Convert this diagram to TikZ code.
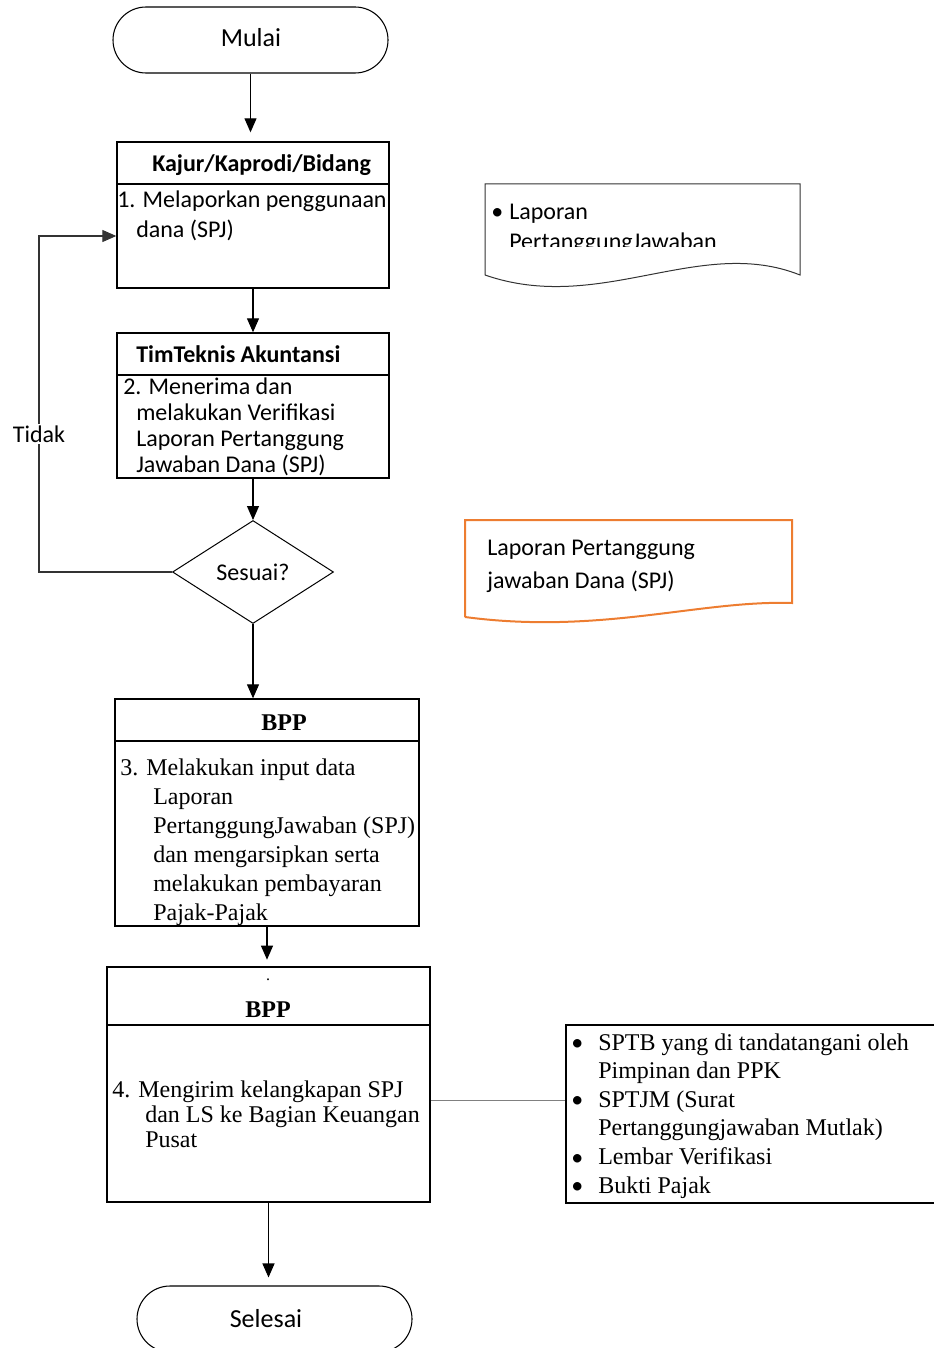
\documentclass[tikz,border=0pt]{standalone}
\usepackage{fontspec}
\setmainfont{Liberation Serif}
\newfontfamily\carlito{Carlito}
\usetikzlibrary{arrows.meta,fit,shapes.geometric}
\definecolor{oranye}{RGB}{237,125,49}

\tikzset{
	kotak/.style={draw,line width=1pt,inner sep=0pt,fit={#1}},
	terminal/.style={draw,line width=0.8pt,inner sep=0pt,rounded corners=24.75pt,fit={#1}},
	panah/.style={-{Triangle[length=10.5pt,width=9pt]},line width=0.8pt},
	sans/.style={inner sep=0pt,anchor=base west,align=left,font=\carlito\fontsize{18}{#1}\selectfont},
	serif/.style={inner sep=0pt,anchor=base west,align=left,font=\fontsize{18}{#1}\selectfont},
}

\begin{document}
\begin{tikzpicture}[x=0.75pt,y=-0.75pt]
\clip (0,0) rectangle (934,1348);

% terminal dan kotak proses (teks: baseline baris terakhir)
\node[terminal={(113,7)(388,73)}] (mulai) {};
\node[inner sep=0pt,anchor=base,font=\carlito\fontsize{19.5}{21}\selectfont] (tmulai) at (251,47) {Mulai};
\node[kotak={(117,142)(389,288)}] (kajur) {};
\draw[line width=1pt] (117,184) -- (389,184);
\node[sans=22.5,font=\carlito\bfseries\fontsize{18}{22}\selectfont] (hkajur) at (152,172) {Kajur/Kaprodi/Bidang};
\node[sans=22.5] (tkajur) at (117,238) {1. Melaporkan penggunaan\\\hspace*{14.25pt}dana (SPJ)};

\node[kotak={(117,333)(389,478)}] (tim) {};
\draw[line width=1pt] (117,375) -- (389,375);
\node[sans=19.5,font=\carlito\bfseries\fontsize{18}{22}\selectfont] (htim) at (136,362) {TimTeknis Akuntansi};
\node[sans=19.5] (ttim) at (123,472) {2. Menerima dan\\\hspace*{9.75pt}melakukan Verifikasi\\\hspace*{9.75pt}Laporan Pertanggung\\\hspace*{9.75pt}Jawaban Dana (SPJ)};

\node[diamond,draw,line width=0.75pt,inner sep=0pt,minimum width=120.75pt,minimum height=77.25pt,font=\carlito\fontsize{18}{20}\selectfont] (sesuai) at (253,572) {Sesuai?};

\node[kotak={(115,699)(419,926)}] (bpp1) {};
\draw[line width=1pt] (115,741) -- (419,741);
\node[inner sep=0pt,anchor=base,font=\bfseries\fontsize{18}{20}\selectfont] (hbpp1) at (284,730) {BPP};
\node[serif=21.75] (tbpp1) at (120,920) {3. Melakukan input data\\\hspace*{24.75pt}Laporan\\\hspace*{24.75pt}PertanggungJawaban (SPJ)\\\hspace*{24.75pt}dan mengarsipkan serta\\\hspace*{24.75pt}melakukan pembayaran\\\hspace*{24.75pt}Pajak-Pajak};

\node[kotak={(107,967)(430,1202)}] (bpp2) {};
\draw[line width=1pt] (107,1025) -- (430,1025);
\node[inner sep=0pt,anchor=base,font=\fontsize{12}{14}\selectfont] (titik) at (268,980) {.};
\node[inner sep=0pt,anchor=base,font=\bfseries\fontsize{18}{20}\selectfont] (hbpp2) at (268,1017) {BPP};
\node[serif=18.75] (tbpp2) at (112,1147) {4. Mengirim kelangkapan SPJ\\\hspace*{24.75pt}dan LS ke Bagian Keuangan\\\hspace*{24.75pt}Pusat};

\node[terminal={(137,1286)(412,1352)}] (selesai) {};
\node[inner sep=0pt,anchor=base,font=\carlito\fontsize{19.5}{21}\selectfont] (tselesai) at (266,1327) {Selesai};

% dokumen
\draw[line width=0.75pt,black!80] (485,275) -- (485,184) -- (800,184) -- (800,275)
	.. controls (700,235) and (600,315) .. (485,275);
\node[sans=21.75] (bulet1) at (491,220) {\textbullet};
\begin{scope}
	\clip (486,185) rectangle (799,247);
	\node[sans=21.75] (lpj) at (509,249) {Laporan\\PertanggungJawaban};
\end{scope}

\draw[line width=1.5pt,oranye] (465,617) -- (465,520) -- (792,520) -- (792,603)
	.. controls (700,600) and (600,635) .. (465,617);
\node[sans=24.75] (lpj2) at (487,588) {Laporan Pertanggung\\jawaban Dana (SPJ)};

% daftar kelengkapan
\node[kotak={(566,1025)(960,1203)}] (daftar) {};
\foreach \y in {1050,1107,1165,1193}
	\node[inner sep=0pt,anchor=base west,font=\carlito\fontsize{18}{20}\selectfont] at (571,\y) {\textbullet};
\node[serif=21.45] (isi) at (598,1193) {SPTB yang di tandatangani oleh\\Pimpinan dan PPK\\SPTJM (Surat\\Pertanggungjawaban Mutlak)\\Lembar Verifikasi\\Bukti Pajak};

% alur
\coordinate (balik) at (39,236);
\coordinate (sambung) at (500,1100);
\draw[panah,shorten >=6.75pt] (mulai.south) -- (mulai.south |- kajur.north);
\draw[panah] (kajur.south) -- (tim.north);
\draw[panah] (tim.south) -- (sesuai.north);
\draw[panah] (sesuai.south) -- (sesuai.south |- bpp1.north);
\draw[panah,shorten >=5pt] (bpp1.south) -- (bpp1.south |- bpp2.north);
\draw[panah,shorten >=6pt] (bpp2.south) -- (bpp2.south |- selesai.north);
\draw[panah,black!80] (sesuai.west) -| (balik) -- (balik -| kajur.west);
\node[fill=white,inner sep=1pt,font=\carlito\fontsize{18}{20}\selectfont] (tidak) at (39,434) {Tidak};
\draw[gray,line width=0.5pt] (sambung -| bpp2.east) -- (sambung -| daftar.west);

\end{tikzpicture}
\end{document}
